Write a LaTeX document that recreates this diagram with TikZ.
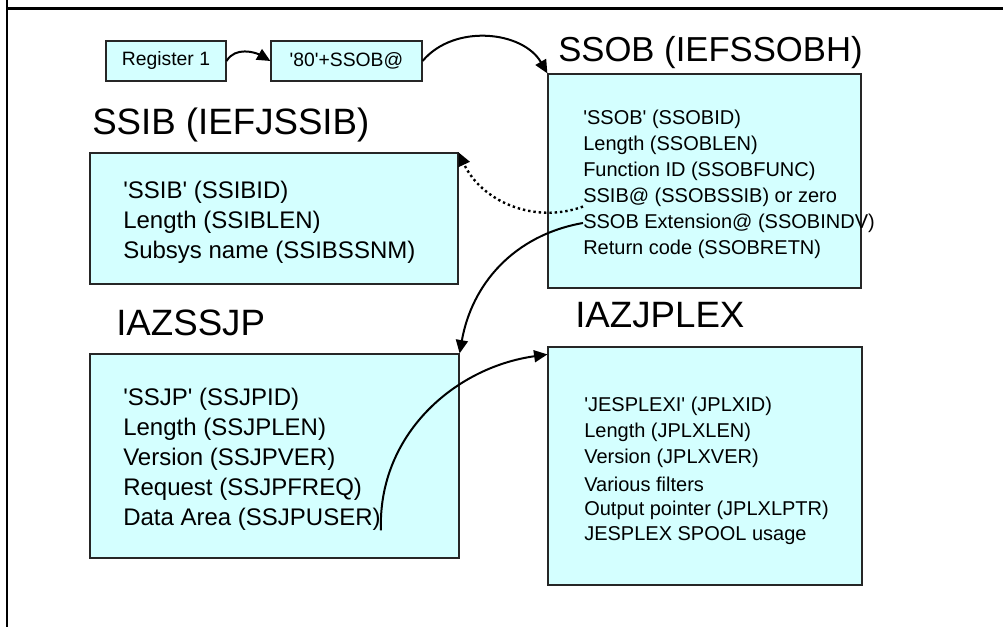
\documentclass[tikz,border=0pt]{standalone}
\usepackage{fontspec}
\setmainfont{Liberation Sans}[Ligatures=TeXOff]
\usetikzlibrary{arrows.meta,fit}
\definecolor{boxcyan}{RGB}{212,255,255}

\begin{document}
\begin{tikzpicture}[x=0.75pt,y=-0.75pt,
  blk/.style={draw=black!85, fill=boxcyan, line width=0.9pt, inner sep=0pt},
  reg/.style={blk, minimum height=30pt, font=\fontsize{14.5}{14.5}\selectfont},
  title/.style={anchor=west, inner sep=0pt, font=\fontsize{27.5}{27.5}\selectfont},
  big/.style={anchor=west, inner sep=0pt, font=\fontsize{18}{18}\selectfont},
  small/.style={anchor=west, inner sep=0pt, font=\fontsize{15}{15}\selectfont},
  link/.style={-{Triangle[length=10pt,width=9pt]}, line width=1.5pt},
]
\useasboundingbox (0,0) rectangle (1003,627);

% page frame
\draw[line width=2.2pt] (7,8.5) -- (1003,8.5);
\draw[line width=1.1pt] (7,0) -- (7,627);

%%%%%%%%%%%%%%%%%%%%%%%% register and pointer
\node[reg, minimum width=90pt] (reg) at (166,61) {Register 1};
\node[reg, minimum width=113.25pt] (ptr) at (346.5,61) {'80'+SSOB@};

%%%%%%%%%%%%%%%%%%%%%%%% control blocks
\node[blk, fit={(548,74) (861,288)}] (ssob) {};
\node[blk, fit={(90,153) (458,284)}] (ssib) {};
\node[blk, fit={(90,354) (459,558)}] (ssjp) {};
\node[blk, fit={(548,347) (862,585)}] (jplex) {};

\node[title, font=\fontsize{26}{26}\selectfont] (ssobt) at (558,53) {SSOB (IEFSSOBH)};
\node[title] (ssibt) at (92,125) {SSIB (IEFJSSIB)};
\node[title] (ssjpt) at (116,323) {IAZSSJP};
\node[title] (jplext) at (575,315) {IAZJPLEX};

\foreach \t [count=\i] in {'SSOB' (SSOBID), Length (SSOBLEN), Function ID (SSOBFUNC),
    SSIB@ (SSOBSSIB) or zero, SSOB Extension@ (SSOBINDV), Return code (SSOBRETN)}
  \node[small] (ssob-\i) at (583,93+26*\i) {\t};

\foreach \t [count=\i] in {'SSIB' (SSIBID), Length (SSIBLEN), Subsys name (SSIBSSNM)}
  \node[big] (ssib-\i) at (123,162+30*\i) {\t};

\foreach \t [count=\i] in {'SSJP' (SSJPID), Length (SSJPLEN), Version (SSJPVER),
    Request (SSJPFREQ), Data Area (SSJPUSER)}
  \node[big] (ssjp-\i) at (123,369+30*\i) {\t};

\foreach \t [count=\i] in {'JESPLEXI' (JPLXID), Length (JPLXLEN), Version (JPLXVER),
    Various filters, Output pointer (JPLXLPTR), JESPLEX SPOOL usage}
  \node[small] (jplex-\i) at (584,380+26*\i) {\t};

%%%%%%%%%%%%%%%%%%%%%%%% pointers
\draw[link] (reg.east) to[out=60,in=150] (ptr.west);
\draw[link] (ptr.east) to[out=50,in=120] (ssob.north west);
\draw[link, line width=1.8pt, dash pattern=on 1.8pt off 2.2pt] (ssob-4.south west) to[out=200,in=-65] (ssib.north east);
\draw[link] (ssob-5.west) to[out=190,in=80] (ssjp.north east);
\draw[link] (ssjp-5.south east) to[out=92,in=188] ([yshift=-6]jplex.north west);

\end{tikzpicture}
\end{document}
